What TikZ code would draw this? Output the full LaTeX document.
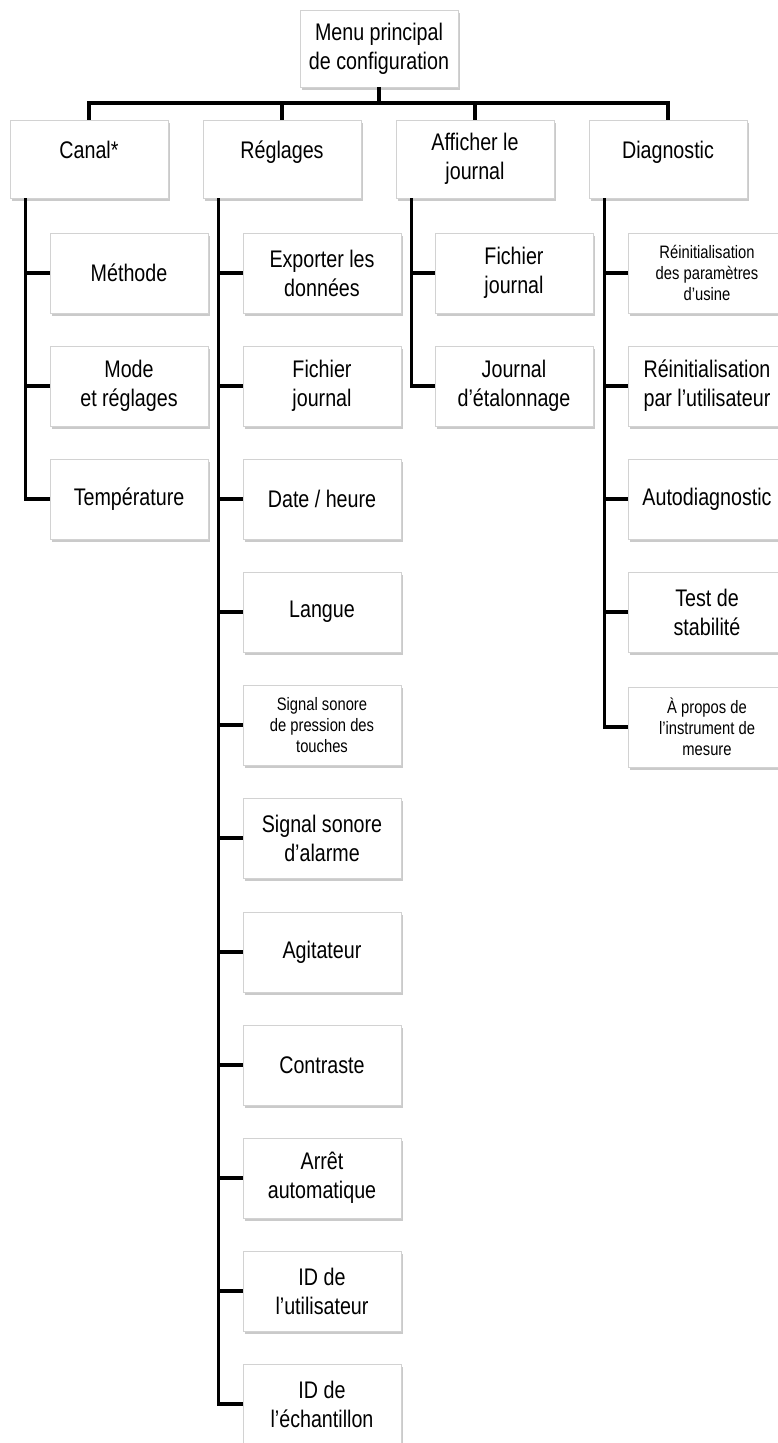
\documentclass[tikz,border=0pt]{standalone}
\usepackage{fontspec}
\setmainfont{Liberation Sans}[FakeStretch=0.82]
\usetikzlibrary{shadows}
\begin{document}
\begin{tikzpicture}[x=1pt, y=-1pt, font=\fontsize{24}{29}\selectfont,
          box/.style={draw=gray!35, line width=0.8pt, fill=white, minimum width=158pt, minimum height=80pt,
            inner sep=2pt, align=center, drop shadow={shadow xshift=1.5pt, shadow yshift=-2.5pt, fill=gray!70, opacity=0.6}},
          top/.style={box, minimum height=78pt},
          raise/.style={text depth=19pt},
          small/.style={font=\fontsize{18}{21}\selectfont},
          link/.style={line width=3.5pt}]
        \useasboundingbox (0,0) rectangle (778,1443);
        \node[box, minimum height=77pt] (menu) at (379,48.5) {Menu principal\\de configuration};
        \node[top, raise] (canal) at (89,159) {Canal*};
        \node[top, raise] (regl) at (282,159) {Réglages};
        \node[top] (journ) at (475,159) {Afficher le\\journal};
        \node[top, raise] (diag) at (668,159) {Diagnostic};
        \coordinate (bar) at (379,103);
        \draw[link] (menu.south) -- (menu.south |- bar);
        \draw[link] (canal.north) |- (bar) -| (diag.north);
        \draw[link] (regl.north) -- (regl.north |- bar);
        \draw[link] (journ.north) -- (journ.north |- bar);
        % Canal*
        \node[box] (meth) at (129,273) {Méthode};
        \node[box] (mode) at (129,386) {Mode\\et réglages};
        \node[box] (temp) at (129,499) {Température};
        \draw[link] ([xshift=16pt]canal.south west) |- (meth.west);
        \draw[link] ([xshift=16pt]canal.south west) |- (mode.west);
        \draw[link] ([xshift=16pt]canal.south west) |- (temp.west);
        % Réglages
        \node[box] (expo) at (322,273) {Exporter les\\données};
        \node[box] (fich) at (322,386) {Fichier\\journal};
        \node[box] (date) at (322,499) {Date / heure};
        \node[box] (lang) at (322,612) {Langue};
        \node[box, small] (bip) at (322,725) {Signal sonore\\de pression des\\touches};
        \node[box] (alarm) at (322,838) {Signal sonore\\d’alarme};
        \node[box] (agit) at (322,952) {Agitateur};
        \node[box] (contr) at (322,1065) {Contraste};
        \node[box] (arret) at (322,1178) {Arrêt\\automatique};
        \node[box] (iduser) at (322,1291) {ID de\\l’utilisateur};
        \node[box] (idech) at (322,1404) {ID de\\l’échantillon};
        \draw[link] ([xshift=16pt]regl.south west) |- (expo.west);
        \draw[link] ([xshift=16pt]regl.south west) |- (fich.west);
        \draw[link] ([xshift=16pt]regl.south west) |- (date.west);
        \draw[link] ([xshift=16pt]regl.south west) |- (lang.west);
        \draw[link] ([xshift=16pt]regl.south west) |- (bip.west);
        \draw[link] ([xshift=16pt]regl.south west) |- (alarm.west);
        \draw[link] ([xshift=16pt]regl.south west) |- (agit.west);
        \draw[link] ([xshift=16pt]regl.south west) |- (contr.west);
        \draw[link] ([xshift=16pt]regl.south west) |- (arret.west);
        \draw[link] ([xshift=16pt]regl.south west) |- (iduser.west);
        \draw[link] ([xshift=16pt]regl.south west) |- (idech.west);
        % Afficher le journal
        \node[box] (fjourn) at (514,273) {Fichier\\journal};
        \node[box] (etal) at (514,386) {Journal\\d’étalonnage};
        \draw[link] ([xshift=16pt]journ.south west) |- (fjourn.west);
        \draw[link] ([xshift=16pt]journ.south west) |- (etal.west);
        % Diagnostic
        \node[box, small] (rusine) at (707,273) {Réinitialisation\\des paramètres\\d’usine};
        \node[box] (ruser) at (707,386) {Réinitialisation\\par l’utilisateur};
        \node[box] (auto) at (707,499) {Autodiagnostic};
        \node[box] (stab) at (707,612) {Test de\\stabilité};
        \node[box, small] (apropos) at (707,727) {À propos de\\l’instrument de\\mesure};
        \draw[link] ([xshift=16pt]diag.south west) |- (rusine.west);
        \draw[link] ([xshift=16pt]diag.south west) |- (ruser.west);
        \draw[link] ([xshift=16pt]diag.south west) |- (auto.west);
        \draw[link] ([xshift=16pt]diag.south west) |- (stab.west);
        \draw[link] ([xshift=16pt]diag.south west) |- (apropos.west);
      \end{tikzpicture}
\end{document}
